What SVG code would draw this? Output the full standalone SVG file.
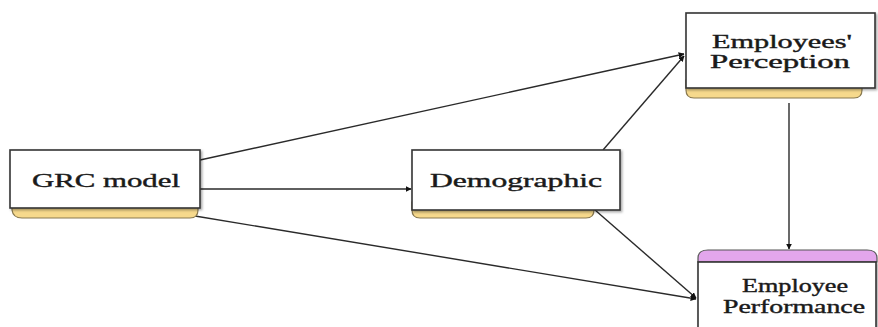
<svg xmlns="http://www.w3.org/2000/svg" width="878" height="327" viewBox="0 0 878 327">
<defs>
<style>
.box{fill:#ffffff;stroke:#333333;stroke-width:1.6}
.sh{fill:#f6d98c;stroke:#8a7a50;stroke-width:1.2}
.pk{fill:#e3a6ec;stroke:#555555;stroke-width:1.2}
.t{font-family:'Liberation Serif','Times New Roman',serif;font-weight:normal;font-size:19px;fill:#1a1a1a;stroke:#1a1a1a;stroke-width:0.4;text-anchor:middle}
.c{stroke:#2a2a2a;stroke-width:1.4;fill:none;marker-end:url(#ah)}
</style>
<marker id="ah" viewBox="0 0 10 10" refX="9" refY="5" markerWidth="6" markerHeight="6" orient="auto" markerUnits="userSpaceOnUse">
<path d="M0,0 L10,5 L0,10 z" fill="#111111"/>
</marker>
<filter id="ds" x="-5%" y="-5%" width="115%" height="130%">
<feDropShadow dx="1.5" dy="1.5" stdDeviation="1.2" flood-color="#000" flood-opacity="0.35"/>
</filter>
</defs>
<rect width="878" height="327" fill="#ffffff"/>
<g id="connectors">
<line class="c" x1="200" y1="160" x2="684" y2="54"/>
<line class="c" x1="200" y1="189" x2="411" y2="189"/>
<line class="c" x1="195" y1="216" x2="696" y2="299"/>
<line class="c" x1="603" y1="150" x2="684" y2="56"/>
<line class="c" x1="595" y1="210" x2="696" y2="298"/>
<line class="c" x1="789" y1="103" x2="789" y2="249"/>
</g>
<g id="grc">
<path class="sh" d="M12,200 H198 V210 Q198,218 190,218 H22 Q13,218 12,210 Z"/>
<rect class="box" x="10" y="150" width="190" height="58" filter="url(#ds)"/>
<text class="t" x="106" y="187" textLength="148" lengthAdjust="spacingAndGlyphs">GRC model</text>
</g>
<g id="demographic">
<path class="sh" d="M412,202 H594 V210 Q594,218 586,218 H420 Q412,218 412,210 Z"/>
<rect class="box" x="412" y="150" width="208" height="60" filter="url(#ds)"/>
<text class="t" x="516" y="187" textLength="172" lengthAdjust="spacingAndGlyphs">Demographic</text>
</g>
<g id="perception">
<path class="sh" d="M686,80 H862 V90 Q862,98 854,98 H694 Q686,98 686,90 Z"/>
<rect class="box" x="686" y="13" width="189" height="75" filter="url(#ds)"/>
<text class="t" x="782" y="48" textLength="140" lengthAdjust="spacingAndGlyphs">Employees'</text>
<text class="t" x="780" y="68" textLength="140" lengthAdjust="spacingAndGlyphs">Perception</text>
</g>
<g id="performance">
<path class="pk" d="M698,262 V258 Q698,250 708,250 H867 Q877,250 877,258 V262 Z"/>
<rect class="box" x="698" y="262" width="178" height="80" filter="url(#ds)"/>
<text class="t" x="795" y="292" textLength="106" lengthAdjust="spacingAndGlyphs">Employee</text>
<text class="t" x="794" y="313" textLength="142" lengthAdjust="spacingAndGlyphs">Performance</text>
</g>
</svg>
